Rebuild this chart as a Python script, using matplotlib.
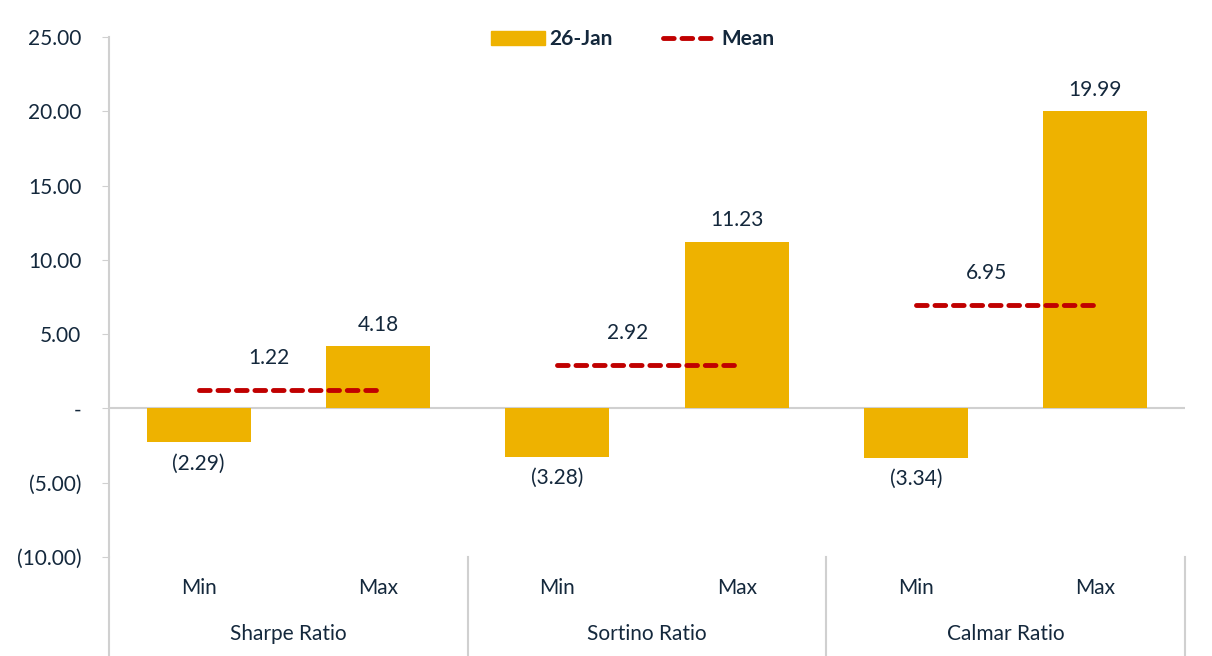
import matplotlib.pyplot as plt
from matplotlib.lines import Line2D
from matplotlib.patches import Patch

groups = ["Sharpe Ratio", "Sortino Ratio", "Calmar Ratio"]
sub_labels = ["Min", "Max"]
min_vals = [-2.29, -3.28, -3.34]
max_vals = [4.18, 11.23, 19.99]
mean_vals = [1.22, 2.92, 6.95]
y_ticks = [-10, -5, 0, 5, 10, 15, 20, 25]

gold = "#EEB200"
red = "#C00000"
navy = "#14283C"
grey = "#D0D0D0"
fs = 15

plt.rcParams['font.family'] = ['Lato', 'DejaVu Sans']


def fmt(v):
    if abs(v) < 1e-9:
        return "-"
    if v < 0:
        return "({:.2f})".format(-v)
    return "{:.2f}".format(v)


fig = plt.figure(figsize=(12.12, 6.56), dpi=100)
ax = fig.add_axes([0.0899, 0.1509, 0.8878, 0.7927])

xs = list(range(6))
vals = []
for mn, mx in zip(min_vals, max_vals):
    vals += [mn, mx]

ax.bar(xs, vals, width=0.58, color=gold, zorder=2)

for x, v in zip(xs, vals):
    if v >= 0:
        ax.annotate(fmt(v), (x, v), xytext=(0, 8), textcoords="offset points",
                    ha="center", va="bottom", fontsize=fs, color=navy)
    else:
        ax.annotate(fmt(v), (x, v), xytext=(0, -8), textcoords="offset points",
                    ha="center", va="top", fontsize=fs, color=navy)

for i, m in enumerate(mean_vals):
    x0, x1 = 2 * i, 2 * i + 1
    ax.plot([x0, x1], [m, m], color=red, lw=3.5, ls=(0, (2.2, 1.6)),
            dash_capstyle="round", zorder=3)
    ax.annotate(fmt(m), ((x0 + x1) / 2, m), xytext=(-14, 16), textcoords="offset points",
                ha="center", va="bottom", fontsize=fs, color=navy)

ax.set_xlim(-0.5, 5.5)
ax.set_ylim(-10, 25)
ax.set_yticks(y_ticks)
ax.set_yticklabels([fmt(t) for t in y_ticks], fontsize=fs, color=navy)
ax.tick_params(axis="y", length=5, color=grey, pad=15)
ax.set_xticks([])

for s in ["top", "right", "bottom"]:
    ax.spines[s].set_visible(False)
ax.spines["left"].set_color(grey)
ax.spines["left"].set_linewidth(1.5)
ax.axhline(0, color=grey, lw=1.5, zorder=1)

# two-level category axis
trans = ax.get_xaxis_transform()
for x, lab in zip(xs, sub_labels * 3):
    ax.text(x, -0.06, lab, transform=trans, ha="center", va="center",
            fontsize=fs, color=navy)
for i, g in enumerate(groups):
    ax.text(2 * i + 0.5, -0.148, g, transform=trans, ha="center", va="center",
            fontsize=fs, color=navy)
for b in [-0.5, 1.5, 3.5, 5.5]:
    ax.plot([b, b], [0, -0.19], transform=trans, color=grey, lw=1.5, clip_on=False)

handles = [Patch(color=gold, label="26-Jan"),
           Line2D([0], [0], color=red, lw=3.5, ls=(0, (2.2, 1.6)),
                  dash_capstyle="round", label="Mean")]
leg = fig.legend(handles=handles, loc="center", bbox_to_anchor=(0.522, 0.94),
                 ncol=2, frameon=False, handlelength=2.6, columnspacing=2.4,
                 handletextpad=0.2, prop={"weight": "bold", "size": fs})
for t in leg.get_texts():
    t.set_color(navy)

fig.savefig("out.png", dpi=100)
